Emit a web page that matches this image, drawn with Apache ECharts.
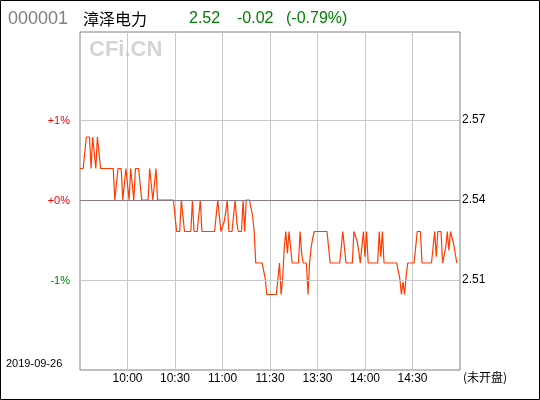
<!DOCTYPE html>
<html><head><meta charset="utf-8">
<script src="https://cdn.jsdelivr.net/npm/echarts@6/dist/echarts.min.js"></script>
<style>html,body{margin:0;padding:0;background:#fff}#c{width:540px;height:400px}</style>
</head><body><div id="c"></div>
<script>
// ---- data ----
const stockCode = '000001';
const stockName = '漳泽电力';
const lastPrice = '2.52';
const change = '-0.02';
const changePct = '(-0.79%)';
const tradeDate = '2019-09-26';
const statusText = '(未开盘)';
const prevClose = 2.54;

// per-minute price, from 9:30 (index 0)
const prices = [
 2.55,2.55,2.55,2.55,2.56,2.56,2.56,2.55,2.56,2.56,
 2.55,2.56,2.56,2.55,2.55,2.55,2.55,2.55,2.55,2.55,
 2.55,2.55,2.54,2.54,2.55,2.55,2.55,2.54,2.545,2.55,
 2.55,2.54,2.55,2.55,2.54,2.55,2.55,2.55,2.545,2.54,
 2.54,2.54,2.54,2.54,2.55,2.55,2.54,2.545,2.55,2.54,
 2.54,2.54,2.54,2.54,2.54,2.54,2.54,2.54,2.54,2.54,
 2.54,2.53,2.53,2.53,2.54,2.54,2.53,2.53,2.53,2.53,
 2.53,2.54,2.53,2.53,2.53,2.53,2.54,2.53,2.53,2.53,
 2.53,2.53,2.53,2.53,2.53,2.53,2.53,2.54,2.54,2.53,
 2.53,2.533,2.536,2.54,2.53,2.53,2.53,2.53,2.54,2.533,
 2.53,2.53,2.53,2.54,2.53,2.54,2.54,2.54,2.54,2.535,
 2.53,2.52,2.52,2.52,2.52,2.52,2.52,2.515,2.51,2.51,
 2.51,2.51,2.51,2.51,2.51,2.51,2.52,2.51,2.515,2.525,
 2.53,2.523,2.53,2.525,2.52,2.52,2.52,2.52,2.52,2.53,
 2.523,2.52,2.52,2.52,2.51,2.52,2.525,2.528,2.53,2.53,
 2.53,2.53,2.53,2.53,2.53,2.53,2.53,2.53,2.52,2.52,
 2.52,2.52,2.52,2.52,2.52,2.52,2.53,2.53,2.52,2.52,
 2.52,2.52,2.52,2.53,2.53,2.527,2.524,2.52,2.52,2.53,
 2.522,2.53,2.52,2.52,2.52,2.52,2.52,2.52,2.52,2.53,
 2.522,2.53,2.52,2.52,2.52,2.52,2.52,2.52,2.52,2.52,
 2.52,2.52,2.515,2.51,2.514,2.51,2.516,2.52,2.52,2.52,
 2.52,2.52,2.525,2.53,2.53,2.53,2.52,2.52,2.52,2.52,
 2.52,2.52,2.52,2.525,2.53,2.522,2.53,2.53,2.53,2.52,
 2.52,2.525,2.53,2.524,2.53,2.53,2.526,2.523,2.52
];

const pctTicks = [1, 0, -1];
const leftLabels = ['+1%', '+0%', '-1%'];
const rightLabels = ['2.57', '2.54', '2.51'];
const timeTickIdx = [30, 60, 90, 120, 150, 180, 210];
const timeLabels = ['10:00', '10:30', '11:00', '11:30', '13:30', '14:00', '14:30'];

// minute categories 9:30-11:30, 13:01-15:00
const categories = [];
for (let i = 0; i <= 240; i++) {
  let m = i <= 120 ? 9 * 60 + 30 + i : 13 * 60 + (i - 120);
  categories.push(Math.floor(m / 60) + ':' + String(m % 60).padStart(2, '0'));
}
const pctData = prices.map(p => (p - prevClose) / prevClose * 100);

function findTick(v) {
  for (let i = 0; i < pctTicks.length; i++) if (Math.abs(v - pctTicks[i]) < 1e-6) return i;
  return -1;
}

const chart = echarts.init(document.getElementById('c'), null, {renderer: 'canvas'});
const font = 'Liberation Sans, Arial, sans-serif';
const yBase = {
  type: 'value', min: -2.125, max: 2.1, interval: 0.025,
  axisLine: {show: false}, axisTick: {show: false}, splitLine: {show: false}
};
chart.setOption({
  animation: false,
  grid: {left: 80, top: 32, width: 380, height: 338, show: true, borderColor: '#808080', borderWidth: 1, backgroundColor: 'transparent'},
  xAxis: {
    type: 'category', data: categories, boundaryGap: false,
    axisLine: {show: false}, axisTick: {show: false},
    splitLine: {show: true, interval: (i) => timeTickIdx.indexOf(i) >= 0, lineStyle: {color: '#c8c8c8', width: 1}},
    axisLabel: {
      interval: (i) => timeTickIdx.indexOf(i) >= 0,
      formatter: (v, i) => { const k = timeTickIdx.indexOf(i); return k >= 0 ? timeLabels[k] : ''; },
      color: '#000', fontSize: 12, fontFamily: font, margin: 3
    }
  },
  yAxis: [
    Object.assign({}, yBase, {
      position: 'left',
      axisLabel: {
        margin: 10, fontSize: 11, fontFamily: font,
        formatter: (v) => { const k = findTick(v); if (k < 0) return ''; return (pctTicks[k] >= 0 ? '{r|' : '{g|') + leftLabels[k] + '}'; },
        rich: {r: {color: '#ff0000', fontSize: 11, fontFamily: font, padding: [2, 0, 0, 0]}, g: {color: '#008000', fontSize: 11, fontFamily: font, padding: [2, 0, 0, 0]}}
      }
    }),
    Object.assign({}, yBase, {
      position: 'right',
      axisLabel: {
        margin: 2, fontSize: 12, fontFamily: font, color: '#000', padding: [3, 0, 0, 0],
        formatter: (v) => { const k = findTick(v); return k < 0 ? '' : rightLabels[k]; }
      }
    })
  ],
  series: [
    {
      type: 'line', data: [], z: 1, silent: true,
      markLine: {
        silent: true, symbol: 'none', label: {show: false}, animation: false,
        data: pctTicks.map(t => ({yAxis: t, lineStyle: {color: t === 0 ? '#8a7a8a' : '#c8c8c8', width: 1, type: 'solid'}}))
      }
    },
    {
      type: 'line', data: pctData, z: 3, symbol: 'none', showSymbol: false,
      lineStyle: {color: '#ff3c00', width: 1.2}, emphasis: {disabled: true}
    }
  ],
  graphic: [
    {type: 'rect', shape: {x: 0.5, y: 0.5, width: 539, height: 399}, style: {fill: 'none', stroke: '#000', lineWidth: 1}, silent: true},
    {type: 'text', left: 8, top: 10, style: {text: stockCode, font: '18px ' + font, fill: '#808080'}},
    {type: 'text', left: 83, top: 11, style: {text: stockName, font: '16px "Noto Sans CJK SC"', fill: '#000'}},
    {type: 'text', left: 189, top: 11, style: {text: lastPrice, font: '16px ' + font, fill: '#008000'}},
    {type: 'text', left: 237, top: 11, style: {text: change, font: '16px ' + font, fill: '#008000'}},
    {type: 'text', left: 286, top: 11, style: {text: changePct, font: '16px ' + font, fill: '#008000'}},
    {type: 'text', left: 89, top: 39, z: 0, style: {text: 'CFi.CN', font: 'bold 22px ' + font, fill: '#d4d4d4'}},
    {type: 'text', left: 6, top: 358, style: {text: tradeDate, font: '11px ' + font, fill: '#000'}},
    {type: 'text', left: 463, top: 371, style: {text: statusText, font: '12px "Noto Sans CJK SC"', fill: '#000'}}
  ]
});
</script></body></html>
